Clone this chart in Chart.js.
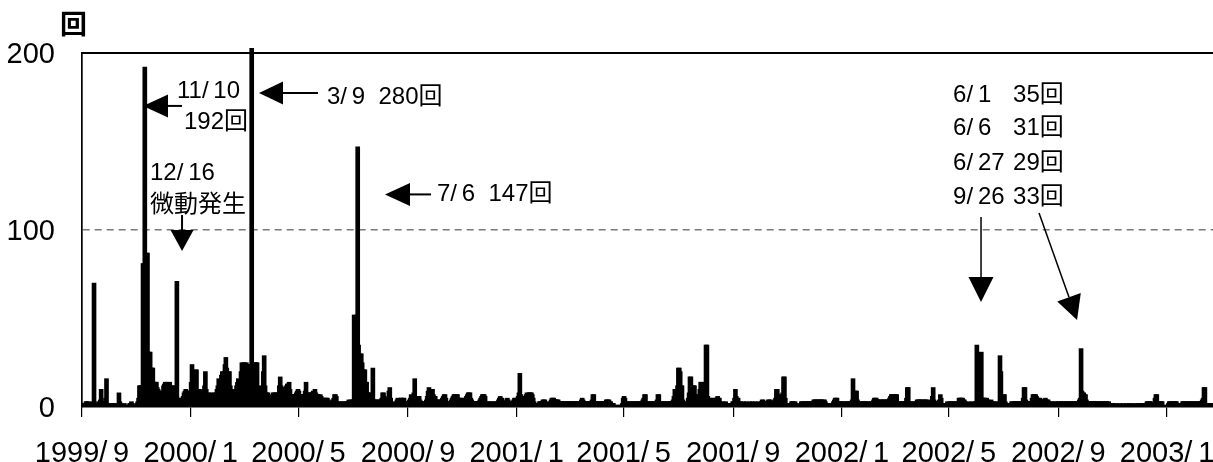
<!DOCTYPE html>
<html>
<head>
<meta charset="utf-8">
<script src="https://cdn.jsdelivr.net/npm/chart.js@4.4.1/dist/chart.umd.min.js"></script>
<style>
  html, body { margin: 0; padding: 0; background: #fff; }
  canvas { display: block; }
</style>
</head>
<body>
<canvas id="quakes" width="1213" height="462"></canvas>
<script>
// daily counts, one line per month, starting 1999/9/1
const counts1999 = [
  1,2,2,2,3,3,2,3,2,2,2,2,3,70,2,2,1,2,3,2,4,10,3,3,2,2,5,16,2,2,
  2,1,2,2,1,2,2,1,2,2,2,8,3,2,1,1,1,2,1,1,1,1,1,2,2,3,2,1,1,1,1,
  2,3,5,12,12,12,12,81,81,192,70,87,87,31,31,31,22,22,22,14,14,14,14,11,10,8,9,8,8,9,
  12,13,14,13,14,13,13,14,12,11,12,11,10,12,11,71,5,4,5,4,5,4,6,8,9,10,9,8,9,8,9
];
const counts2000 = [
  14,24,12,14,15,21,21,9,9,10,8,9,8,9,10,12,20,10,8,7,8,6,7,8,7,6,8,7,8,10,12,
  16,12,15,18,20,15,20,24,28,22,18,20,20,12,10,9,10,8,10,9,12,14,16,14,12,20,25,24,25,
  25,24,25,24,24,24,23,24,280,24,24,25,25,25,25,10,10,12,9,10,11,20,29,12,8,8,8,7,3,3,3,
  4,8,8,7,8,8,6,8,12,17,12,11,11,11,10,11,12,13,13,14,10,7,6,7,7,6,7,8,9,10,
  9,7,7,6,7,6,7,9,14,8,7,8,8,7,8,8,9,8,10,8,7,7,7,6,7,6,5,5,5,4,5,
  5,5,4,2,2,3,3,4,5,7,7,6,3,2,3,2,3,2,2,3,2,3,2,3,3,4,3,4,3,4,
  4,52,45,50,52,147,35,30,30,30,25,21,21,21,14,14,8,8,8,6,5,7,22,4,4,3,4,4,3,4,3,
  4,5,8,8,6,4,4,3,5,9,11,5,3,2,2,2,2,3,4,5,4,4,5,5,4,5,5,3,3,2,3,
  3,4,5,7,6,5,8,16,6,5,6,5,6,4,3,3,2,3,3,2,4,6,9,11,8,9,10,10,7,4,
  6,4,4,3,4,4,3,4,5,6,7,7,5,3,2,3,2,3,4,5,6,7,7,6,7,7,5,5,4,5,4,
  5,3,4,5,6,7,8,8,8,5,4,3,3,3,2,3,3,3,3,4,5,6,7,7,7,6,3,2,3,2,
  3,2,3,2,2,3,2,3,2,3,4,5,6,5,5,3,2,3,3,4,5,4,3,3,2,3,3,4,5,5,4
];
const counts2001 = [
  4,6,8,19,7,6,6,6,6,5,7,8,7,8,8,8,8,7,5,3,2,1,2,1,2,3,3,3,3,4,4,
  4,3,2,2,2,2,3,4,5,5,5,4,4,4,4,4,3,3,3,3,3,3,3,3,3,3,3,3,
  3,3,2,3,3,3,2,3,3,3,3,3,3,4,5,4,3,3,3,2,3,3,3,3,3,4,7,7,3,3,3,
  3,3,3,2,3,3,3,3,3,3,4,4,4,4,3,3,2,2,2,1,1,1,1,1,1,1,1,1,2,5,
  6,5,3,3,2,3,2,3,2,3,3,2,3,2,3,3,3,2,3,3,3,4,5,7,7,3,2,3,2,3,3,
  3,2,3,3,2,3,4,7,7,3,2,3,3,2,3,3,2,3,3,3,2,3,3,3,4,6,10,10,8,12,
  22,22,20,12,12,4,2,2,2,3,3,5,8,17,17,10,12,12,12,7,7,7,7,6,10,14,14,12,10,12,14,
  35,35,6,4,4,5,4,4,5,4,4,5,5,6,5,5,3,2,2,3,2,2,3,2,1,2,2,1,2,2,3,
  3,5,10,6,5,5,3,2,3,2,2,3,2,2,3,2,2,2,3,2,2,3,2,2,3,2,2,2,3,2,
  2,3,4,4,3,2,3,3,3,4,4,4,3,2,2,3,4,5,10,10,6,7,7,6,5,8,17,17,5,2,2,
  2,2,1,2,3,3,3,2,3,2,1,1,1,1,2,3,3,2,3,3,3,2,3,3,3,3,2,3,3,4,
  4,4,4,3,4,4,4,4,4,3,4,4,3,2,1,2,2,2,2,1,2,3,4,5,5,5,3,2,3,3,2
];
const counts2002 = [
  3,2,3,2,3,2,3,3,2,3,3,4,16,8,9,9,9,4,2,3,2,3,2,3,3,2,3,2,3,2,3,
  2,3,2,3,4,5,5,5,4,4,3,4,4,4,3,4,4,4,3,4,4,4,5,6,7,7,7,7,
  7,7,7,3,2,3,3,2,3,3,2,3,3,5,11,11,3,2,3,2,3,2,2,3,3,4,4,4,4,4,3,
  4,4,3,4,4,4,3,2,3,3,4,6,11,4,3,3,2,3,3,4,7,5,2,1,2,2,1,2,3,2,
  3,2,3,3,2,3,2,3,3,2,3,5,5,5,5,5,4,4,3,2,2,2,3,2,2,2,3,2,2,3,3,
  35,6,5,5,6,31,5,5,5,5,4,5,3,4,3,3,4,3,3,3,2,2,2,3,2,3,29,20,4,6,
  7,7,3,2,2,2,1,2,2,3,3,2,3,3,3,2,3,3,3,2,3,3,5,11,11,4,3,3,2,3,3,
  3,5,7,7,7,7,6,5,5,4,5,4,4,4,4,4,5,4,4,4,3,2,3,2,3,2,2,3,2,3,2,
  3,2,3,3,2,3,3,2,3,3,3,2,3,3,2,3,3,3,2,3,3,3,3,4,5,33,9,8,8,7,
  7,4,3,3,3,2,3,3,3,3,2,3,3,3,2,3,3,3,2,3,3,3,2,3,3,2,3,2,2,2,2,
  2,1,1,2,1,1,1,2,1,1,1,2,1,1,1,2,1,1,2,1,1,2,1,1,1,2,1,1,2,1,
  1,2,1,2,1,2,2,2,3,3,3,3,3,2,2,2,2,5,7,7,3,3,2,3,3,3,1,1,1,1,1
];
const counts2003 = [
  1,2,3,3,3,3,2,3,3,3,3,2,2,2,1,2,2,3,3,3,2,3,3,3,2,3,3,2,3,3,2,
  3,2,3,3,2,3,3,3,4,5,11,11,2,2,1,2,1,2,1,2
];

const tickLabels = ['1999/9','2000/1','2000/5','2000/9','2001/1','2001/5',
                    '2001/9','2002/1','2002/5','2002/9','2003/1'];
const yTicks = [0, 100, 200];

const notes = [
  { text: '11/10', day: 106.6, val: 178.5 },
  { text: '192回', day: 114.5, val: 161 },
  { text: '12/16', day: 76.3, val: 132.2 },
  { text: '微動発生', day: 76.3, val: 114.1 },
  { text: '3/9  280回', day: 275, val: 175.1 },
  { text: '7/6  147回', day: 398.5, val: 120.3 },
  { text: '6/1', day: 977.8, val: 176.3 },
  { text: '35回', day: 1045.2, val: 176.3 },
  { text: '6/6', day: 977.8, val: 157.6 },
  { text: '31回', day: 1045.2, val: 157.6 },
  { text: '6/27', day: 977.8, val: 137.9 },
  { text: '29回', day: 1045.2, val: 137.9 },
  { text: '9/26', day: 977.8, val: 118.6 },
  { text: '33回', day: 1045.2, val: 118.6 }
];
const arrows = [
  { from: [112.3, 170.1], to: [68.5, 170.1], w: 2, head: 25, half: 11.5 },
  { from: [264.9, 177.4], to: [198.7, 177.4], w: 2, head: 24, half: 11.5 },
  { from: [112.3, 108.5], to: [112.3, 88.1], w: 2, head: 21, half: 11.5 },
  { from: [391.8, 120.1], to: [340.1, 120.1], w: 2, head: 25, half: 11.5 },
  { from: [1009.2, 107.3], to: [1009.2, 59.3], w: 1.5, head: 25, half: 12.5 },
  { from: [1074.3, 109.6], to: [1117, 49.2], w: 1.5, head: 24, half: 12.5 }
];

const start = Date.UTC(1999, 8, 1);
const dayOf = s => { const [y, m] = s.split('/').map(Number); return (Date.UTC(y, m - 1, 1) - start) / 864e5; };
const tickDays = tickLabels.map(dayOf);
const counts = [...counts1999, ...counts2000, ...counts2001, ...counts2002, ...counts2003];
const points = counts.map((v, i) => ({ x: i + 0.5, y: v }));

// the original leaves a little gap after each slash
const spaced = s => s.replace('/', '/\u2009');

const numFont = { family: '"Liberation Sans", Arial, sans-serif', size: 29 };
const noteFont = '24px "Liberation Sans", "Noto Sans CJK JP", sans-serif';

function drawArrow(ctx, x1, y1, x2, y2, w, head, half) {
  const a = Math.atan2(y2 - y1, x2 - x1);
  const bx = x2 - head * Math.cos(a), by = y2 - head * Math.sin(a);
  ctx.lineWidth = w;
  ctx.beginPath(); ctx.moveTo(x1, y1); ctx.lineTo(bx, by); ctx.stroke();
  ctx.beginPath();
  ctx.moveTo(x2, y2);
  ctx.lineTo(bx + half * Math.sin(a), by - half * Math.cos(a));
  ctx.lineTo(bx - half * Math.sin(a), by + half * Math.cos(a));
  ctx.closePath(); ctx.fill();
}

const overlay = {
  id: 'overlay',
  afterDraw(chart) {
    const { ctx, chartArea: area, scales: { x, y } } = chart;
    ctx.save();
    ctx.strokeStyle = '#000';
    ctx.fillStyle = '#000';
    // frame top
    ctx.lineWidth = 2;
    ctx.beginPath(); ctx.moveTo(area.left, area.top); ctx.lineTo(area.right, area.top); ctx.stroke();
    // unit
    ctx.font = 'bold 27px "Noto Sans CJK JP", sans-serif';
    ctx.textAlign = 'center';
    ctx.textBaseline = 'middle';
    ctx.fillText('回', area.left - 8.5, area.top - 29);
    // notes
    ctx.font = noteFont;
    ctx.textAlign = 'left';
    notes.forEach(n => ctx.fillText(spaced(n.text), x.getPixelForValue(n.day), y.getPixelForValue(n.val)));
    arrows.forEach(r => drawArrow(ctx,
      x.getPixelForValue(r.from[0]), y.getPixelForValue(r.from[1]),
      x.getPixelForValue(r.to[0]), y.getPixelForValue(r.to[1]), r.w, r.head, r.half));
    ctx.restore();
  }
};

new Chart(document.getElementById('quakes'), {
  type: 'bar',
  data: {
    datasets: [{
      data: points,
      backgroundColor: '#000',
      borderWidth: 0,
      barThickness: 4,
      clip: { left: 0, top: 5, right: 0, bottom: 0 }
    }]
  },
  options: {
    responsive: false,
    animation: false,
    devicePixelRatio: 1,
    layout: { padding: { top: 53, left: 0, right: 0, bottom: 0 } },
    plugins: { legend: { display: false }, tooltip: { enabled: false } },
    scales: {
      x: {
        type: 'linear',
        min: 0,
        max: 1269.6,
        offset: false,
        afterBuildTicks: s => { s.ticks = tickDays.map(v => ({ value: v })); },
        afterFit: s => { s.height = 55; s.paddingLeft = 0; s.paddingRight = 0; },
        ticks: {
          autoSkip: false,
          maxRotation: 0,
          padding: 20,
          color: '#000',
          font: numFont,
          callback: v => spaced(tickLabels[tickDays.indexOf(v)])
        },
        grid: { offset: false, drawOnChartArea: false, drawTicks: true, tickLength: 10, color: '#000', lineWidth: 1.2 },
        border: { color: '#000', width: 1.5 }
      },
      y: {
        min: 0,
        max: 200,
        afterBuildTicks: s => { s.ticks = yTicks.map(v => ({ value: v })); },
        afterFit: s => { s.width = 82; s.paddingTop = 0; s.paddingBottom = 0; },
        ticks: { padding: 27, labelOffset: 2, color: '#000', font: numFont },
        grid: { drawTicks: false, lineWidth: 1.5, color: c => c.tick && c.tick.value === 100 ? '#7a7a7a' : 'rgba(0,0,0,0)' },
        border: { color: '#000', width: 1.7, dash: [7, 5] }
      }
    }
  },
  plugins: [overlay]
});
</script>
</body>
</html>
